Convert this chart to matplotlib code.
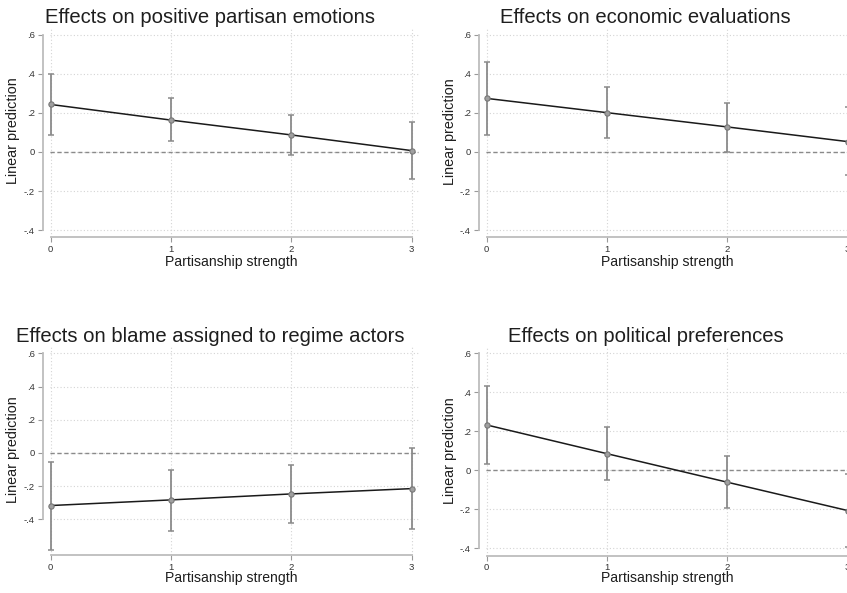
import matplotlib
matplotlib.use("Agg")
import matplotlib.pyplot as plt

plt.rcParams['font.family'] = ['Liberation Sans', 'DejaVu Sans']

# ---- data ----
x_vals = [0, 1, 2, 3]
x_tick_labels = ["0", "1", "2", "3"]
y_ticks = [-0.4, -0.2, 0.0, 0.2, 0.4, 0.6]
y_tick_labels = ["-.4", "-.2", "0", ".2", ".4", ".6"]

titles = [
    "Effects on positive partisan emotions",
    "Effects on economic evaluations",
    "Effects on blame assigned to regime actors",
    "Effects on political preferences",
]
xlabel = "Partisanship strength"
ylabel = "Linear prediction"

emotions_est = [0.243, 0.163, 0.087, 0.007]
emotions_lo = [0.085, 0.055, -0.017, -0.139]
emotions_hi = [0.400, 0.274, 0.189, 0.151]

economic_est = [0.274, 0.201, 0.128, 0.053]
economic_lo = [0.089, 0.073, 0.002, -0.119]
economic_hi = [0.462, 0.331, 0.251, 0.228]

blame_est = [-0.317, -0.283, -0.247, -0.215]
blame_lo = [-0.583, -0.468, -0.422, -0.460]
blame_hi = [-0.057, -0.102, -0.074, 0.030]

prefs_est = [0.232, 0.085, -0.061, -0.206]
prefs_lo = [0.034, -0.051, -0.193, -0.394]
prefs_hi = [0.429, 0.223, 0.072, -0.020]

series = [
    (emotions_est, emotions_lo, emotions_hi),
    (economic_est, economic_lo, economic_hi),
    (blame_est, blame_lo, blame_hi),
    (prefs_est, prefs_lo, prefs_hi),
]

# ---- layout (pixel boxes: left, top, right, bottom) ----
W, H = 847, 593
boxes = [
    (49.5, 28.8, 418.9, 237.2),
    (485.5, 28.8, 854.9, 237.2),
    (49.5, 346.7, 418.9, 555.0),
    (485.5, 347.2, 854.9, 555.5),
]
ylims = [(-0.436, 0.63), (-0.436, 0.63), (-0.615, 0.64), (-0.436, 0.63)]
title_pos = [(210, 23), (645.5, 23), (210, 342), (646, 342)]
ylabel_pos = [(13, 130.5), (450, 131.5), (13, 450), (450, 451)]
xlabel_pos = [(231, 262), (667, 262), (231, 578), (667, 578)]

fig = plt.figure(figsize=(W / 100, H / 100), dpi=100)
fig.patch.set_facecolor("white")

axis_col = "#bdbdbd"
tick_col = "#9a9a9a"
err_col = "#8a8a8a"

for i in range(4):
    l, t, r, b = boxes[i]
    ax = fig.add_axes([l / W, 1 - b / H, (r - l) / W, (b - t) / H])
    est, lo, hi = series[i]
    ax.set_xlim(-0.01, 3.06)
    ax.set_ylim(*ylims[i])

    # grid
    for yv in y_ticks:
        ax.axhline(yv, color="#d4d4d4", lw=0.8, ls=(0, (1, 2)), zorder=0)
    for xv in x_vals:
        ax.axvline(xv, color="#d4d4d4", lw=0.8, ls=(0, (1, 2)), zorder=0)
    ax.axhline(0, color="#8a8a8a", lw=1.0, ls=(0, (3, 2)), zorder=1)

    yerr = [[e - lo_ for e, lo_ in zip(est, lo)], [hi_ - e for e, hi_ in zip(est, hi)]]
    eb = ax.errorbar(x_vals, est, yerr=yerr, fmt="none", ecolor=err_col, elinewidth=1.3,
                     capsize=2.2, capthick=1.1, zorder=2)
    for art in eb.lines[1] + eb.lines[2]:
        art.set_clip_on(False)
    ax.plot(x_vals, est, color="#1a1a1a", lw=1.1, zorder=3, clip_on=False)
    ax.plot(x_vals, est, ls="none", marker="o", ms=3.8, mfc="#a0a0a0", mec="#777777",
            mew=0.8, zorder=4, clip_on=False)

    for s in ["top", "right"]:
        ax.spines[s].set_visible(False)
    ax.spines["left"].set_position(("outward", 5))
    ax.spines["left"].set_bounds(-0.4, 0.6)
    ax.spines["bottom"].set_bounds(0, 3)
    for s in ["left", "bottom"]:
        ax.spines[s].set_color(axis_col)
        ax.spines[s].set_linewidth(1.3)

    ax.set_yticks(y_ticks)
    ax.set_yticklabels(y_tick_labels)
    ax.set_xticks(x_vals)
    ax.set_xticklabels(x_tick_labels)
    ax.tick_params(axis="both", labelsize=6.8, colors=tick_col, labelcolor="#333333",
                   length=3.5, width=0.8, pad=2)
    ax.patch.set_alpha(0)

    tx, ty = title_pos[i]
    fig.text(tx / W, 1 - ty / H, titles[i], ha="center", va="baseline",
             fontsize=14.6, color="#1e1e1e")
    lx, ly = ylabel_pos[i]
    fig.text(lx / W, 1 - ly / H, ylabel, ha="center", va="center", rotation=90,
             fontsize=10.4, color="#1e1e1e")
    bx, by = xlabel_pos[i]
    fig.text(bx / W, 1 - by / H, xlabel, ha="center", va="center",
             fontsize=10.1, color="#1e1e1e")

fig.savefig("out.png", dpi=100)
